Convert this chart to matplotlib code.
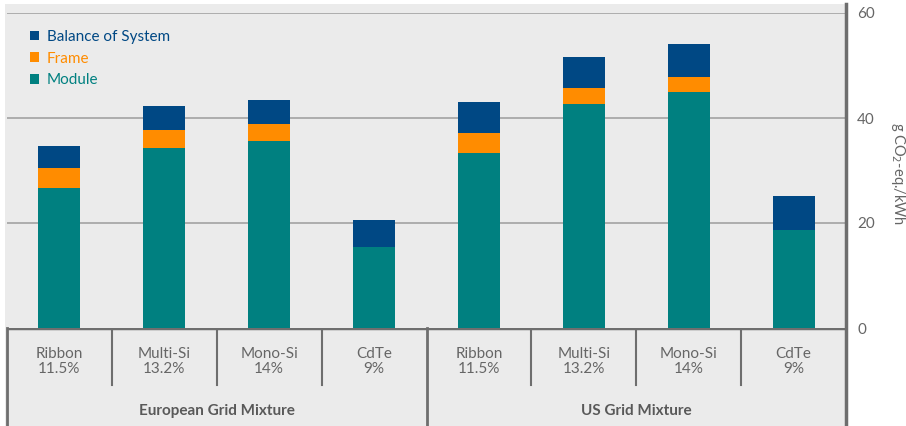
import matplotlib.pyplot as plt
import matplotlib.patches as mpatches
import matplotlib.lines as mlines
import numpy as np

plt.rcParams['font.family'] = ['Lato', 'DejaVu Sans']

# data (g CO2-eq./kWh)
technologies = ["Ribbon", "Multi-Si", "Mono-Si", "CdTe"]
efficiencies = ["11.5%", "13.2%", "14%", "9%"]
grids = ["European Grid Mixture", "US Grid Mixture"]
module = [26.6, 34.3, 35.6, 15.5, 33.3, 42.6, 44.9, 18.6]
frame = [3.8, 3.4, 3.2, 0.0, 3.8, 3.2, 3.0, 0.0]
bos = [4.3, 4.5, 4.6, 5.0, 5.9, 5.9, 6.1, 6.5]

c_module = "#008080"
c_frame = "#ff8c00"
c_bos = "#004884"
bg = "#ebebeb"
txt = "#666666"
dark = "#6e6e6e"

W, H = 906, 426
fig = plt.figure(figsize=(W / 100, H / 100), dpi=100)
fig.patch.set_facecolor("white")

# grey panel behind chart and table
fig.add_artist(mpatches.Rectangle((5 / W, 0), (846 - 5) / W, (H - 4) / H,
                                  transform=fig.transFigure, facecolor=bg,
                                  edgecolor="none", zorder=0))

left = 7 / W
width = (846 - 7) / W
ax = fig.add_axes([left, (H - 328) / H, width, (328 - 13) / H])
ax.set_facecolor("none")

n = len(module)
x = np.arange(n) + 0.5
bw = 0.4
module = np.array(module)
frame = np.array(frame)
bos = np.array(bos)
ax.bar(x, module, bw, color=c_module, label="Module", zorder=3)
ax.bar(x, frame, bw, bottom=module, color=c_frame, label="Frame", zorder=3)
ax.bar(x, bos, bw, bottom=module + frame, color=c_bos, label="Balance of System", zorder=3)

ax.set_xlim(0, n)
ax.set_ylim(0, 60)
for yv in [20, 40, 60]:
    ax.axhline(yv, color="#a8a8a8", lw=1.3, zorder=1)
for s in ax.spines.values():
    s.set_visible(False)
ax.set_xticks([])
ax.yaxis.tick_right()
ax.set_yticks([0, 20, 40, 60])
ax.tick_params(axis="y", length=0, pad=8, labelsize=11, labelcolor=txt)

handles, labels = ax.get_legend_handles_labels()
leg = ax.legend(handles[::-1], labels[::-1], loc="upper left", bbox_to_anchor=(0.011, 0.99),
                frameon=False, handlelength=0.6, handleheight=0.6, handletextpad=0.5,
                labelspacing=0.5, fontsize=11, labelcolor=[c_bos, c_frame, c_module])

fig.text(898 / W, (H - 174) / H, "g CO$_2$-eq./kWh", rotation=270, ha="center",
         va="center", fontsize=10.5, color=txt)

# table below the bars
tab = fig.add_axes([left, 0, width, (H - 328) / H])
tab.set_facecolor("none")
tab.set_xlim(0, n)
tab.set_ylim(0, 98)
tab.axis("off")
tab.axhline(98, color=dark, lw=2.5)
for xv in [0, 4, 8]:
    tab.plot([xv, xv], [0, 98], color=dark, lw=2, clip_on=False)
for xv in [1, 2, 3, 5, 6, 7]:
    tab.plot([xv, xv], [41, 98], color=dark, lw=1.5)
for i in range(n):
    j = i % 4
    tab.text(x[i], 64.5, technologies[j] + "\n" + efficiencies[j], ha="center", va="center",
             fontsize=11, color=txt, linespacing=1.1)
for g, name in enumerate(grids):
    tab.text(g * 4 + 2, 15, name, ha="center", va="center", fontsize=11,
             fontweight="bold", color="#595959")

# right axis line, running down through the table
fig.add_artist(mlines.Line2D([846 / W, 846 / W], [0, (H - 4) / H], color=dark, lw=2.5,
                             transform=fig.transFigure))

fig.savefig("out.png", dpi=100)
